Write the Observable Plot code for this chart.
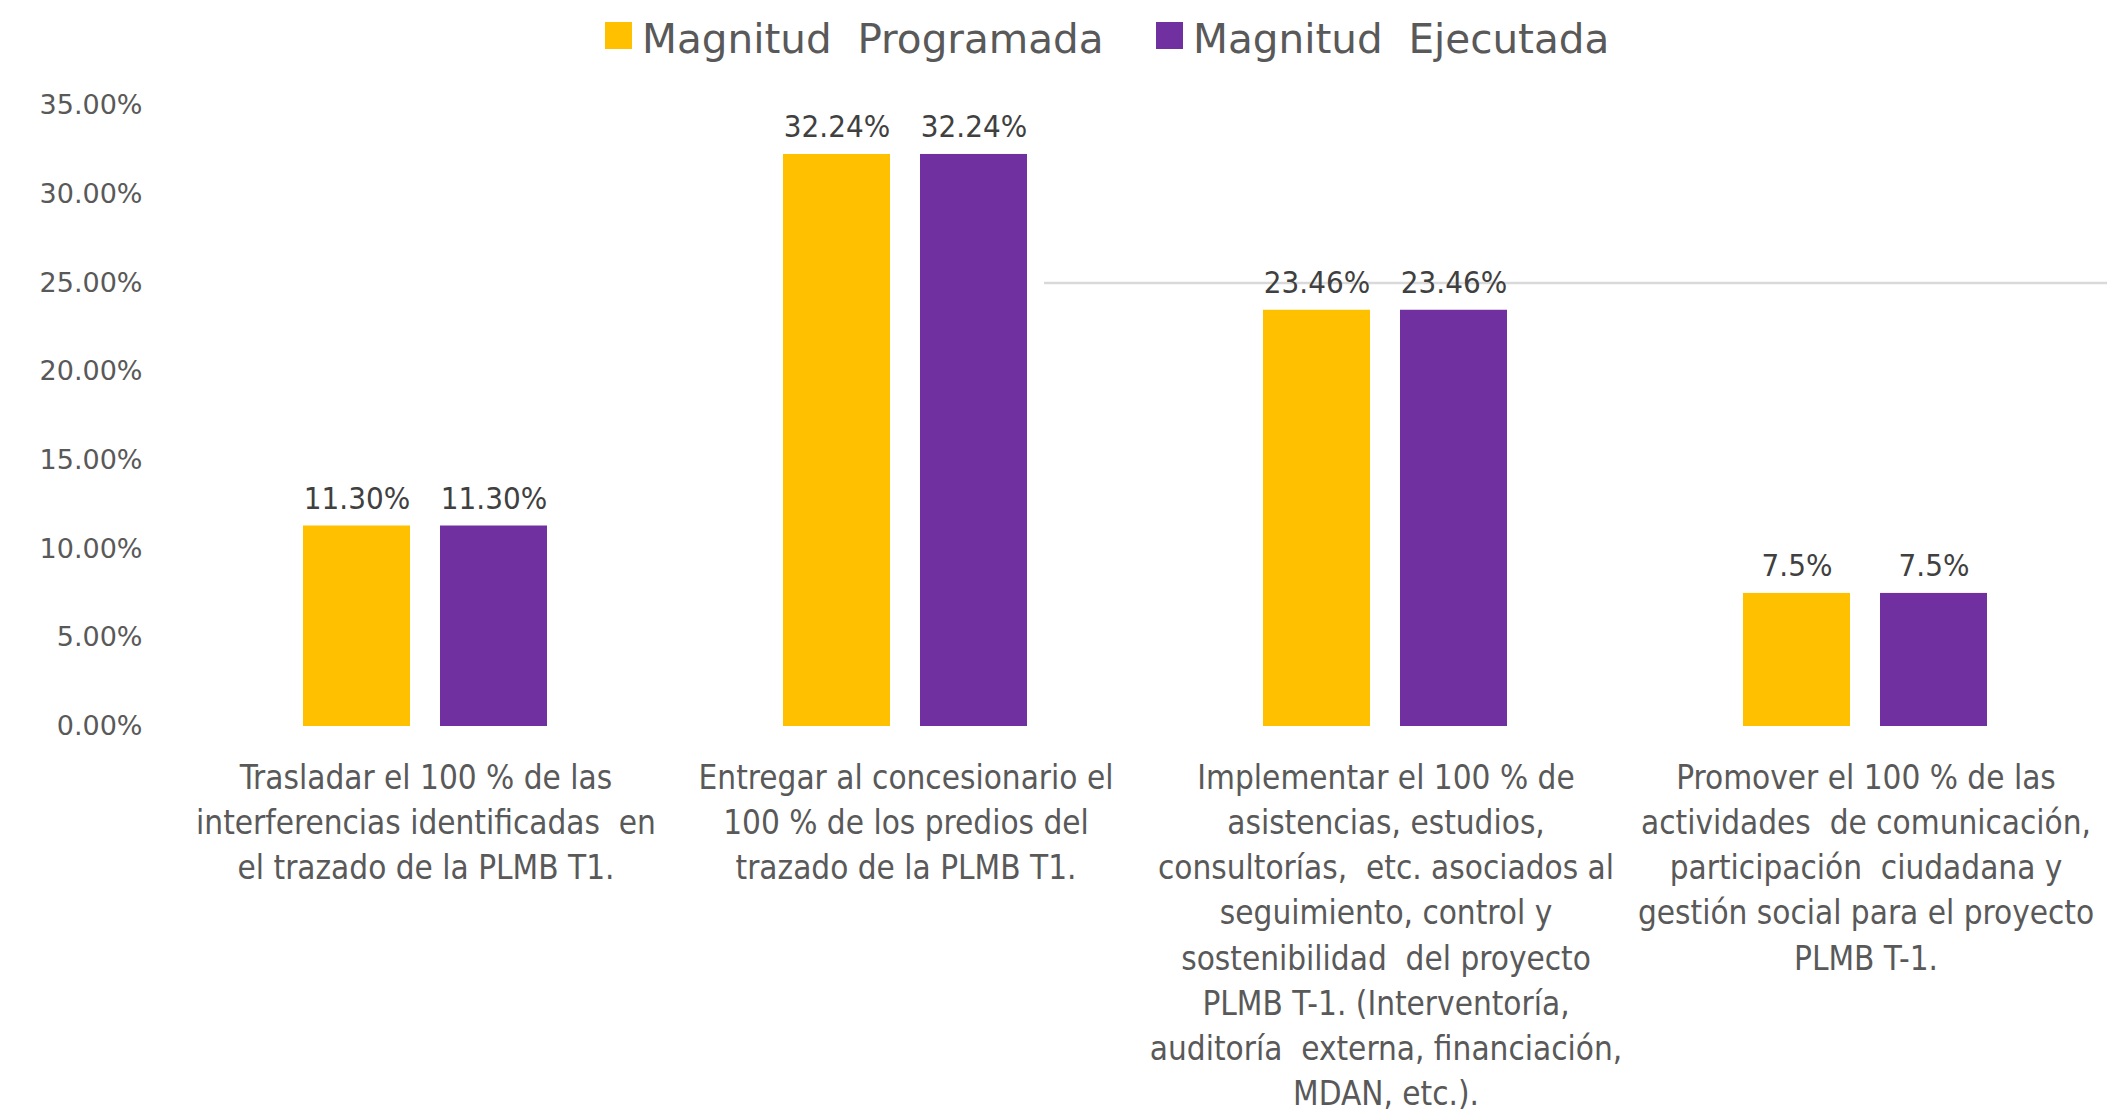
<!DOCTYPE html>
<html>
<head>
<meta charset="utf-8">
<script src="https://cdn.jsdelivr.net/npm/d3@7"></script>
<script src="https://cdn.jsdelivr.net/npm/@observablehq/plot@0.6"></script>
<style>
  html, body { margin: 0; padding: 0; background: #fff; }
  #legend { position: relative; height: 70px; width: 2107px; font-family: "DejaVu Sans", sans-serif; font-size: 40.5px; color: #595959; }
  .item { position: absolute; top: 15px; display: flex; align-items: center; white-space: pre; }
  .sw { width: 27px; height: 27px; margin-right: 10px; margin-top: -8px; }
  svg { display: block; }
</style>
</head>
<body>
<div id="legend"></div>
<script>
// ---- data ----
const categories = [
  "Trasladar el 100 % de las\ninterferencias identificadas  en\nel trazado de la PLMB T1.",
  "Entregar al concesionario el\n100 % de los predios del\ntrazado de la PLMB T1.",
  "Implementar el 100 % de\nasistencias, estudios,\nconsultorías,  etc. asociados al\nseguimiento, control y\nsostenibilidad  del proyecto\nPLMB T-1. (Interventoría,\nauditoría  externa, financiación,\nMDAN, etc.).",
  "Promover el 100 % de las\nactividades  de comunicación,\nparticipación  ciudadana y\ngestión social para el proyecto\nPLMB T-1."
];
const series = ["Magnitud  Programada", "Magnitud  Ejecutada"];
const programada = [11.30, 32.24, 23.46, 7.5];
const ejecutada = [11.30, 32.24, 23.46, 7.5];
const programadaLabels = ["11.30%", "32.24%", "23.46%", "7.5%"];
const ejecutadaLabels = ["11.30%", "32.24%", "23.46%", "7.5%"];
const yTicks = [0, 5, 10, 15, 20, 25, 30, 35];
const gridValue = [25];

// ---- styles ----
const colors = ["#FFC000", "#7030A0"];
const narrow = "'Liberation Sans Narrow', 'DejaVu Sans Condensed', 'Lato', sans-serif";

const rows = [];
categories.forEach((c, i) => {
  rows.push({cat: c, series: series[0], value: programada[i], label: programadaLabels[i], idx: i});
  rows.push({cat: c, series: series[1], value: ejecutada[i], label: ejecutadaLabels[i], idx: i});
});

// legend
const legend = document.getElementById("legend");
const legendX = [605, 1156];
series.forEach((s, i) => {
  const it = document.createElement("div");
  it.className = "item";
  it.style.left = legendX[i] + "px";
  const sw = document.createElement("span");
  sw.className = "sw";
  sw.style.background = colors[i];
  const tx = document.createElement("span");
  tx.textContent = s;
  it.appendChild(sw); it.appendChild(tx);
  legend.appendChild(it);
});

const plot = Plot.plot({
  width: 2107,
  height: 1046,
  marginLeft: 184,
  marginRight: 0,
  marginTop: 35,
  marginBottom: 390,
  style: {fontFamily: "'DejaVu Sans', sans-serif", fontSize: "27px", color: "#595959", background: "#fff"},
  facet: {data: rows, x: "cat"},
  fx: {domain: categories, paddingInner: 0.49, paddingOuter: 0.245, axis: null, label: null},
  x: {domain: series, paddingInner: 0.216, paddingOuter: 0, axis: null},
  y: {domain: [0, 35], ticks: yTicks, tickFormat: d => d.toFixed(2) + "%", tickSize: 0, tickPadding: 161, label: null},
  color: {domain: series, range: colors},
  marks: [
    Plot.ruleY(rows, {
      filter: d => d.idx === 2 && d.series === series[0],
      y: () => gridValue[0],
      stroke: "#d9d9d9", strokeWidth: 2.5,
      insetLeft: -219, insetRight: -599
    }),
    Plot.barY(rows, {x: "series", y: "value", fill: "series"}),
    Plot.text(rows, {
      x: "series", y: "value", text: "label",
      dy: -17, lineAnchor: "bottom",
      fontSize: 31, fontFamily: narrow, fill: "#404040"
    }),
    Plot.text(rows, {
      filter: d => d.series === series[0],
      text: "cat", frameAnchor: "bottom", lineAnchor: "top",
      dy: 31, lineHeight: 1.364,
      fontSize: 33, fontFamily: narrow, fill: "#595959"
    })
  ]
});
document.body.appendChild(plot);
</script>
</body>
</html>
